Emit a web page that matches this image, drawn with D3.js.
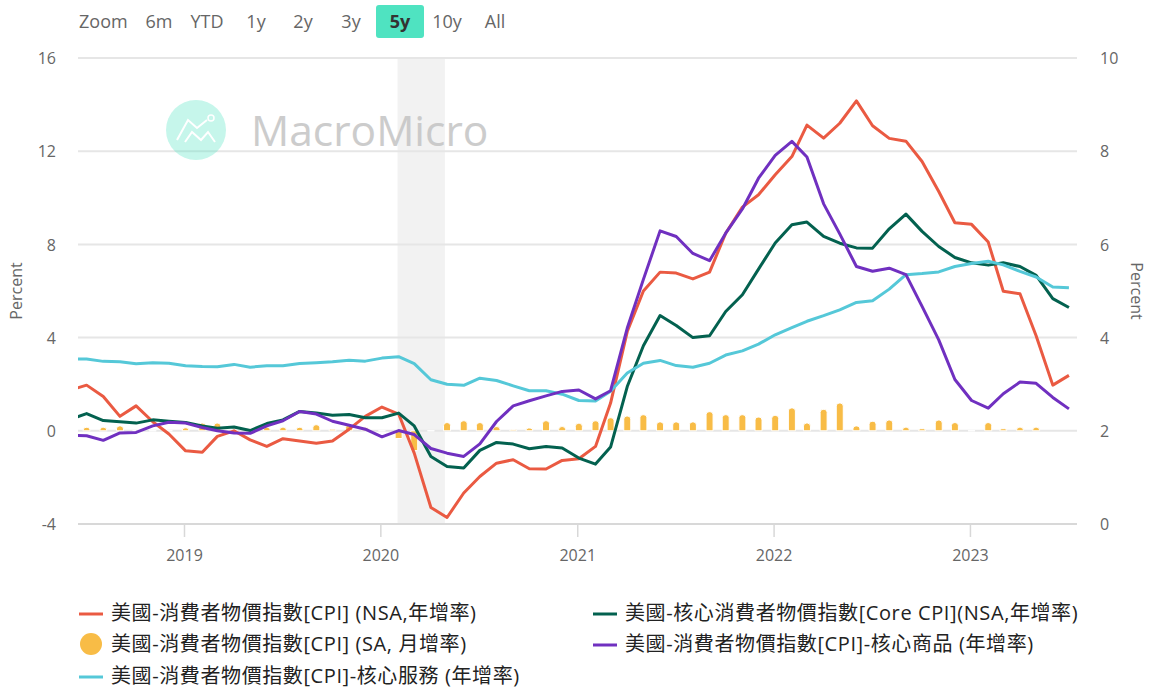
<!DOCTYPE html>
<html>
<head>
<meta charset="utf-8">
<script src="https://cdnjs.cloudflare.com/ajax/libs/d3/7.8.5/d3.min.js"></script>
<style>
  html, body { margin: 0; padding: 0; background: #fff; }
  text { font-family: "Open Sans", "Noto Sans CJK TC", sans-serif; }
</style>
</head>
<body>
<div id="chart"></div>
<script>
// monthly, Jun 2018 - Jul 2023 (first point sits outside the plot and gets clipped)
const cpiNsa = [
  1.75, 1.96, 1.47, 0.62, 1.07, 0.39, -0.14,
  -0.86, -0.92, -0.24, 0, -0.39, -0.67, -0.34, -0.44, -0.53, -0.44, 0.07, 0.62,
  1.02, 0.72, -0.96, -3.29, -3.72, -2.67, -1.96, -1.39, -1.24, -1.63, -1.64, -1.27,
  -1.2, -0.67, 1.19, 4.26, 6.0, 6.81, 6.77, 6.52, 6.81, 8.48, 9.6, 10.13,
  10.99, 11.77, 13.12, 12.56, 13.2, 14.16, 13.09, 12.55, 12.43, 11.56, 10.27, 8.93,
  8.86, 8.1, 5.99, 5.88, 4.08, 1.96, 2.38
]
const coreNsa = [
  0.5, 0.74, 0.44, 0.39, 0.33, 0.47, 0.41,
  0.36, 0.21, 0.11, 0.16, 0.01, 0.31, 0.47, 0.83, 0.76, 0.67, 0.7, 0.56,
  0.56, 0.76, 0.21, -1.1, -1.53, -1.6, -0.84, -0.5, -0.57, -0.77, -0.67, -0.74,
  -1.17, -1.43, -0.7, 1.9, 3.65, 4.95, 4.52, 4.0, 4.08, 5.12, 5.84, 6.94,
  8.06, 8.84, 8.96, 8.34, 8.05, 7.85, 7.84, 8.67, 9.3, 8.56, 7.91, 7.44,
  7.21, 7.11, 7.21, 7.05, 6.67, 5.67, 5.29
]
const coreGoods = [
  -0.2, -0.21, -0.41, -0.09, -0.07, 0.21, 0.37,
  0.33, 0.14, 0, -0.09, -0.11, 0.21, 0.43, 0.83, 0.72, 0.41, 0.24, 0.07,
  -0.26, 0.01, -0.16, -0.76, -0.96, -1.1, -0.56, 0.4, 1.07, 1.29, 1.5, 1.69,
  1.75, 1.37, 1.72, 4.41, 6.5, 8.58, 8.34, 7.61, 7.3, 8.48, 9.52, 10.84,
  11.82, 12.42, 11.75, 9.74, 8.45, 7.05, 6.85, 6.98, 6.7, 5.34, 3.9, 2.2,
  1.3, 0.97, 1.59, 2.09, 2.04, 1.43, 0.94
]
const coreServices = [
  3.08, 3.08, 2.98, 2.96, 2.88, 2.92, 2.9,
  2.79, 2.76, 2.75, 2.85, 2.73, 2.79, 2.79, 2.89, 2.92, 2.96, 3.03, 2.99,
  3.12, 3.18, 2.88, 2.19, 2.0, 1.95, 2.26, 2.16, 1.93, 1.72, 1.72, 1.57,
  1.3, 1.28, 1.7, 2.48, 2.9, 3.02, 2.8, 2.73, 2.9, 3.25, 3.43, 3.72,
  4.12, 4.43, 4.7, 4.94, 5.19, 5.51, 5.58, 6.08, 6.7, 6.75, 6.82, 7.05,
  7.18, 7.28, 7.12, 6.84, 6.6, 6.17, 6.14
]
const cpiSaMonthly = [
  null, 0, 0.15, 0.15, 0.21, 0, 0,
  0, 0.13, 0.33, 0.33, 0, 0, 0.15, 0.15, 0.15, 0.26, 0.07, 0.26,
  0.15, 0, -0.33, -0.85, 0, 0.35, 0.43, 0.35, 0.18, 0.06, 0.12, 0.43,
  0.18, 0.32, 0.43, 0.56, 0.63, 0.69, 0.38, 0.38, 0.38, 0.82, 0.69, 0.69,
  0.59, 0.66, 0.98, 0.33, 0.92, 1.19, null, 0.21, 0.41, 0.46, 0.15, 0.09,
  0.46, 0.35, 0, 0.35, 0.09, 0.15, 0.15
]

const leftTicks = [-4, 0, 4, 8, 12, 16]
const rightTicks = [0, 2, 4, 6, 8, 10]
const yearTicks = [2019, 2020, 2021, 2022, 2023]
const rangeButtons = ['6m', 'YTD', '1y', '2y', '3y', '5y', '10y', 'All']
const rangeCenters = [159, 207, 256, 303, 351, 400, 447, 495]
const recession = [new Date(Date.UTC(2020, 1, 2)), new Date(Date.UTC(2020, 3, 30))]

const months = d3.utcMonth
  .range(new Date(Date.UTC(2018, 5, 1)), new Date(Date.UTC(2023, 7, 1)))
  .map(d => d3.utcDay.offset(d, 3))

const colors = {
  red: '#ea5a42',
  green: '#03614f',
  purple: '#7030c0',
  cyan: '#55c8d8',
  bar: '#f8bc46'
}

const lines = [
  { values: cpiNsa, color: colors.red },
  { values: coreNsa, color: colors.green },
  { values: coreServices, color: colors.cyan },
  { values: coreGoods, color: colors.purple }
]

const legendItems = [
  { label: '美國-消費者物價指數[CPI] (NSA,年增率)', color: colors.red, x: 79, y: 613 },
  { label: '美國-消費者物價指數[CPI] (SA, 月增率)', color: colors.bar, x: 79, y: 644, dot: true },
  { label: '美國-消費者物價指數[CPI]-核心服務 (年增率)', color: colors.cyan, x: 79, y: 676 },
  { label: '美國-核心消費者物價指數[Core CPI](NSA,年增率)', color: colors.green, x: 593, y: 613 },
  { label: '美國-消費者物價指數[CPI]-核心商品 (年增率)', color: colors.purple, x: 593, y: 644 }
]

const width = 1153
const height = 696
const plot = { left: 78, right: 1077, top: 58, bottom: 524 }

const svg = d3
  .select('#chart')
  .append('svg')
  .attr('width', width)
  .attr('height', height)
  .style('display', 'block')

const x = d3
  .scaleUtc()
  .domain([new Date(Date.UTC(2018, 5, 18)), new Date(Date.UTC(2023, 6, 19))])
  .range([plot.left, plot.right])
const yLeft = d3.scaleLinear().domain([-4, 16]).range([plot.bottom, plot.top])
const yRight = d3.scaleLinear().domain([0, 10]).range([plot.bottom, plot.top])

svg
  .append('clipPath')
  .attr('id', 'plot-clip')
  .append('rect')
  .attr('x', plot.left)
  .attr('y', plot.top - 5)
  .attr('width', plot.right - plot.left)
  .attr('height', plot.bottom - plot.top + 5)

// recession band
svg
  .append('rect')
  .attr('x', x(recession[0]))
  .attr('y', plot.top)
  .attr('width', x(recession[1]) - x(recession[0]))
  .attr('height', plot.bottom - plot.top)
  .attr('fill', '#f2f2f2')

// grid
svg
  .append('g')
  .selectAll('line')
  .data(leftTicks.filter(d => d !== -4))
  .enter()
  .append('line')
  .attr('x1', plot.left)
  .attr('x2', plot.right)
  .attr('y1', d => yLeft(d))
  .attr('y2', d => yLeft(d))
  .attr('stroke', '#e6e6e6')
  .attr('stroke-width', 2)

// watermark
const mark = svg.append('g')
mark.append('circle').attr('cx', 196).attr('cy', 130).attr('r', 30).attr('fill', '#4fe3c1').attr('opacity', 0.32)
mark
  .append('polyline')
  .attr('points', '177,140 188,120 197,128 207,120')
  .attr('fill', 'none')
  .attr('stroke', '#fff')
  .attr('stroke-width', 2)
mark
  .append('polyline')
  .attr('points', '185,142 192,132 201,140 208,132 215,142')
  .attr('fill', 'none')
  .attr('stroke', '#fff')
  .attr('stroke-width', 2)
mark
  .append('circle')
  .attr('cx', 211)
  .attr('cy', 118)
  .attr('r', 3)
  .attr('fill', 'none')
  .attr('stroke', '#fff')
  .attr('stroke-width', 1.5)
mark
  .append('text')
  .attr('x', 251)
  .attr('y', 146)
  .attr('font-size', 42.5)
  .attr('fill', '#c4c4c4')
  .attr('opacity', 0.85)
  .text('MacroMicro')

// axes
const leftAxis = svg
  .append('g')
  .attr('transform', `translate(${plot.left},0)`)
  .call(d3.axisLeft(yLeft).tickValues(leftTicks).tickFormat(String).tickSize(0).tickPadding(22))
const rightAxis = svg
  .append('g')
  .attr('transform', `translate(${plot.right},0)`)
  .call(d3.axisRight(yRight).tickValues(rightTicks).tickFormat(String).tickSize(0).tickPadding(23))
const bottomAxis = svg
  .append('g')
  .attr('transform', `translate(0,${plot.bottom})`)
  .call(
    d3
      .axisBottom(x)
      .tickValues(yearTicks.map(d => new Date(Date.UTC(d, 0, 1))))
      .tickFormat(d3.utcFormat('%Y'))
      .tickSize(13)
      .tickPadding(13)
  )

leftAxis.select('.domain').remove()
rightAxis.select('.domain').remove()
bottomAxis.select('.domain').attr('stroke', '#d8d8d8').attr('stroke-width', 2).attr('d', `M${plot.left},0H${plot.right}`)
bottomAxis.selectAll('line').attr('stroke', '#d8d8d8').attr('stroke-width', 1.5)

svg.selectAll('.tick text').attr('fill', '#666').attr('font-size', 16).style('font-family', null)
leftAxis.selectAll('text').attr('dy', '0.35em')
rightAxis.selectAll('text').attr('dy', '0.35em')

svg
  .append('text')
  .attr('transform', 'translate(22,291) rotate(-90)')
  .attr('text-anchor', 'middle')
  .attr('font-size', 16)
  .attr('fill', '#666')
  .text('Percent')
svg
  .append('text')
  .attr('transform', 'translate(1131,291) rotate(90)')
  .attr('text-anchor', 'middle')
  .attr('font-size', 16)
  .attr('fill', '#666')
  .text('Percent')

// bars, tip rounded, white outline knocks the zero line out around each month
const barWidth = 7
function barPath(d, i) {
  const cx = x(months[i])
  const y0 = yLeft(0)
  const y1 = yLeft(d)
  const l = cx - barWidth / 2
  const r = cx + barWidth / 2
  if (d <= 0) return `M${l},${y0}H${r}V${y1}H${l}Z`
  const rad = Math.min(3, y0 - y1)
  return `M${l},${y0}V${y1 + rad}Q${l},${y1} ${l + rad},${y1}H${r - rad}Q${r},${y1} ${r},${y1 + rad}V${y0}Z`
}

svg
  .append('g')
  .attr('clip-path', 'url(#plot-clip)')
  .selectAll('path')
  .data(cpiSaMonthly)
  .enter()
  .filter(d => d !== null)
  .append('path')
  .attr('d', barPath)
  .attr('fill', colors.bar)
  .attr('stroke', '#fff')
  .attr('stroke-width', 1)

const line = d3
  .line()
  .x((d, i) => x(months[i]))
  .y(d => yLeft(d))

svg
  .append('g')
  .attr('clip-path', 'url(#plot-clip)')
  .selectAll('path')
  .data(lines)
  .enter()
  .append('path')
  .attr('d', d => line(d.values))
  .attr('fill', 'none')
  .attr('stroke', d => d.color)
  .attr('stroke-width', 3)
  .attr('stroke-linejoin', 'round')

// range selector
svg
  .append('text')
  .attr('x', 79)
  .attr('y', 28)
  .attr('font-size', 18)
  .attr('fill', '#666')
  .text('Zoom')
svg
  .append('rect')
  .attr('x', 376)
  .attr('y', 5)
  .attr('width', 48)
  .attr('height', 33)
  .attr('rx', 3)
  .attr('fill', '#4fe3c1')
svg
  .append('g')
  .selectAll('text')
  .data(rangeButtons)
  .enter()
  .append('text')
  .attr('x', (d, i) => rangeCenters[i])
  .attr('y', 28)
  .attr('text-anchor', 'middle')
  .attr('font-size', 18)
  .attr('font-weight', d => (d === '5y' ? 700 : 400))
  .attr('fill', d => (d === '5y' ? '#333' : '#666'))
  .text(d => d)

// legend
const legend = svg
  .append('g')
  .selectAll('g')
  .data(legendItems)
  .enter()
  .append('g')
  .attr('transform', d => `translate(${d.x},${d.y})`)

legend
  .filter(d => !d.dot)
  .append('line')
  .attr('x1', 0)
  .attr('x2', 24)
  .attr('y1', 1)
  .attr('y2', 1)
  .attr('stroke', d => d.color)
  .attr('stroke-width', 3)
legend
  .filter(d => d.dot)
  .append('circle')
  .attr('cx', 12)
  .attr('cy', 0)
  .attr('r', 11)
  .attr('fill', d => d.color)
legend
  .append('text')
  .attr('x', 32)
  .attr('y', 7)
  .attr('font-size', 20)
  .attr('letter-spacing', 0.6)
  .attr('fill', '#222')
  .text(d => d.label)
</script>
</body>
</html>
